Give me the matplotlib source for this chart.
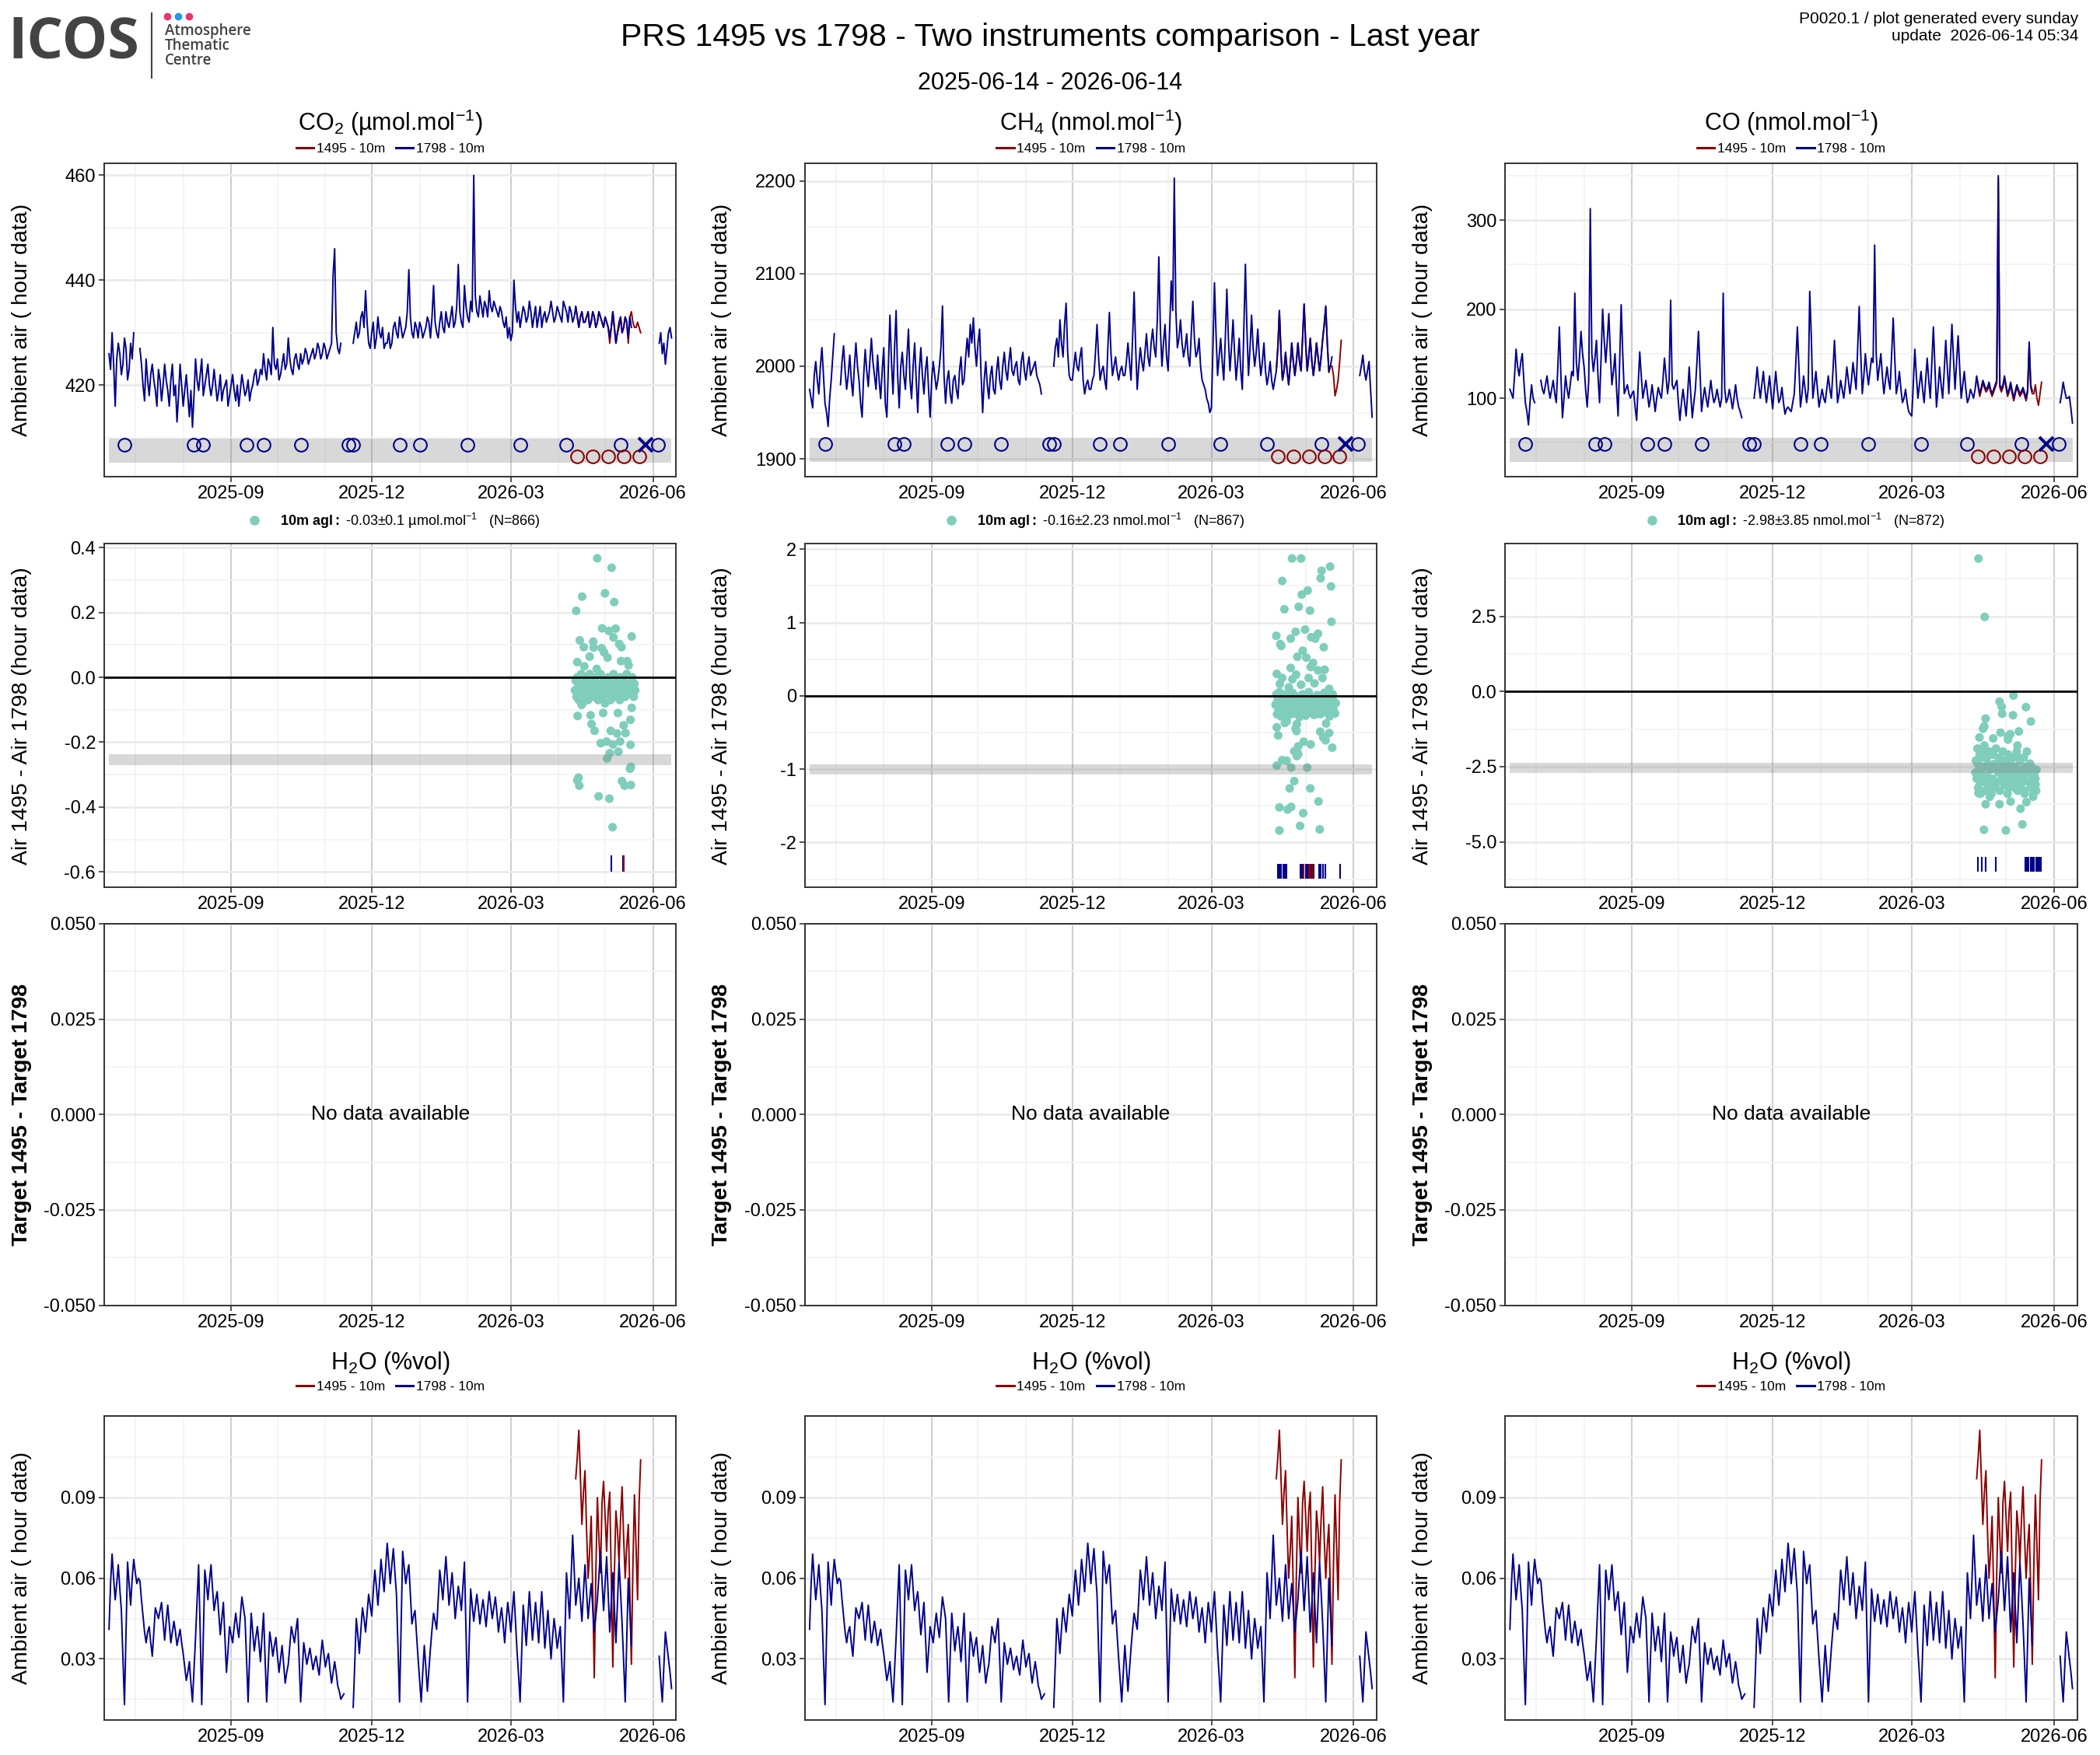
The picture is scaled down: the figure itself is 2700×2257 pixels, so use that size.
import numpy as np
import pandas as pd
import matplotlib
matplotlib.use("Agg")
from matplotlib import pyplot as plt
from matplotlib import dates as mdates
from matplotlib import font_manager
from matplotlib.lines import Line2D
from matplotlib.ticker import FixedLocator, AutoMinorLocator, FormatStrFormatter

installed = {f.name for f in font_manager.fontManager.ttflist}
NARROW = "Liberation Sans Narrow" if "Liberation Sans Narrow" in installed else "Liberation Sans"
REGULAR = "Liberation Sans"
LOGO = "Open Sans" if "Open Sans" in installed else REGULAR

plt.rcParams["font.family"] = [NARROW, "DejaVu Sans"]
plt.rcParams["mathtext.fontset"] = "custom"
plt.rcParams["mathtext.rm"] = NARROW
plt.rcParams["mathtext.bf"] = NARROW + ":bold"
plt.rcParams["mathtext.it"] = NARROW + ":italic"
plt.rcParams["axes.unicode_minus"] = False

nan = np.nan

# ---- instrument 1798 (blue): values on even days from 2025-06-14 ...
co2_1798 = [426, 430, 416, 428, 422, 429, 421, 428, 430, nan,
            427, 420, 425, 418, 424, 419, 423, 417, 424, 419,
            421, 418, 413, 424, 416, 422, 414, 412, 425, 419,
            425, 420, 424, 418, 423, 417, 422, 419, 421, 418,
            422, 417, 416, 422, 418, 421, 419, 422, 420, 423,
            426, 421, 424, 431, 423, 421, 424, 423, 429, 423,
            425, 424, 426, 425, 426, 425, 427, 426, 427, 426,
            427, 426, 428, 446, 427, 428, nan, nan, nan, 428,
            432, 430, 434, 438, 428, 430, 427, 433, 429, 427,
            428, 427, 431, 430, 433, 429, 431, 442, 430, 432,
            429, 431, 430, 433, 429, 439, 430, 432, 431, 434,
            431, 435, 432, 443, 432, 439, 433, 436, 460, 434,
            437, 433, 435, 438, 434, 435, 433, 434, 431, 429,
            428.5, 440, 432, 431, 435, 432, 436, 431, 435, 433,
            431, 434, 433, 436, 432, 435, 433, 436, 434, 435,
            432, 435, 431, 434, 432, 434, 432, 433, 432, 433,
            431, 432, 429, 434, 428, 432, 430, 433, 429, 431,
            nan, nan, nan, nan, nan, nan, nan, nan, 428, 426,
            424, 430, 429]
# ... and on the odd days in between
co2_1798_odd = [423, 424, 425, 426, 424, 427, 423, 425, nan, nan,
                424, 417, 421, 422, 421, 416, 421, 420, 421, 416,
                424, 420, 418, 420, 419, 418, 419, 418, 421, 422,
                418, 422, 420, 420, 420, 419, 417, 420, 416, 420,
                419, 420, 419, 420, 419, 417, 420, 423, 421, 422,
                423, 425, 422, 424, 425, 422, 426, 424, 425, 422,
                426, 423, 424, 427, 424, 426, 425, 428, 425, 428,
                425, 427, 441, 430, 426, nan, nan, nan, nan, 430,
                429, 433, 431, 432, 427, 432, 429, 430, 431, 428,
                430, 428, 432, 429, 431, 430, 434, 433, 429, 431,
                432, 429, 431, 432, 433, 432, 429, 434, 430, 432,
                433, 431, 435, 434, 431, 435, 432, 434, 437, 433,
                435, 436, 433, 435, 436, 434, 435, 432, 433, 431,
                430, 435, 434, 433, 434, 433, 434, 433, 431, 435,
                433, 432, 434, 434, 433, 434, 432, 435, 432, 434,
                433, 433, 433, 432, 433, 431, 434, 431, 434, 432,
                433, 431, 431, 431, 430, 433, 431, 432, 433, nan,
                nan, nan, nan, nan, nan, nan, nan, nan, 430, 428,
                427, 431]

ch4_1798 = [1975, 1955, 2005, 1970, 2020, 1960, 1935, 1985, 2035, nan,
            1980, 2022, 1975, 2012, 1968, 2025, 1985, 1945, 2018, 1978,
            2030, 1990, 2012, 1965, 2020, 1945, 2055, 1970, 2060, 1955,
            2015, 1975, 2040, 1965, 2025, 1950, 2020, 1970, 2010, 1945,
            2005, 1975, 2000, 2065, 1960, 1995, 1960, 1990, 1965, 2010,
            1985, 2030, 2045, 2052, 2000, 2040, 1950, 2005, 1965, 2000,
            1970, 2010, 1975, 2015, 1985, 2020, 1990, 2005, 1980, 2015,
            1985, 2010, 1995, 2005, 1985, 1970, nan, nan, nan, 2000,
            2030, 2050, 2010, 2068, 1990, 1985, 2015, 1995, 2020, 1970,
            1985, 1975, 1990, 2045, 1985, 2000, 1975, 2058, 1990, 2010,
            1985, 2000, 1990, 2025, 1985, 2080, 1975, 2020, 1995, 2035,
            2000, 2040, 2010, 2118, 2000, 2045, 1995, 2092, 2203, 2020,
            2050, 2010, 2035, 2000, 2070, 2010, 2030, 1985, 1975, 1960,
            1955, 2090, 1990, 2030, 1985, 2083, 1995, 2050, 1985, 2030,
            1975, 2110, 1990, 2055, 2000, 2040, 1990, 2025, 1980, 2005,
            1975, 1995, 2060, 1985, 2015, 1980, 2025, 1990, 2025, 1995,
            2067, 1995, 2030, 1990, 2025, 1995, 2030, 2065, 1995, 2010,
            nan, nan, nan, nan, nan, nan, nan, nan, 1990, 2012,
            1985, 2005, 1945]
ch4_1798_odd = [1965, 1990, 1985, 2000, 1990, 1950, 1965, 2010, nan, nan,
                2005, 1995, 1990, 1985, 2000, 2000, 1960, 1990, 1995, 2005,
                2005, 1975, 1985, 1995, 1960, 2000, 2005, 2020, 1990, 2000,
                1990, 2010, 1985, 2000, 1985, 1995, 1990, 1995, 1975, 1985,
                1990, 1985, 2020, 1990, 1985, 1970, 1985, 1975, 1995, 1980,
                2010, 2010, 2025, 2020, 2025, 1990, 1985, 1980, 1990, 1975,
                1995, 1985, 2000, 1995, 2005, 1995, 2000, 1985, 2005, 1995,
                2000, 1990, 2000, 1990, 1980, nan, nan, nan, nan, 2020,
                2010, 2025, 2045, 2015, 1985, 2000, 2000, 2010, 1985, 1980,
                1975, 1985, 2015, 2010, 1995, 1985, 2020, 2015, 2000, 1995,
                1995, 1990, 2005, 2005, 2030, 2020, 2000, 2005, 2015, 2010,
                2025, 2020, 2050, 2040, 2025, 2010, 2040, 2060, 2060, 2030,
                2025, 2020, 2010, 2035, 2030, 2015, 2000, 1980, 1965, 1950,
                2020, 2035, 2010, 2005, 2030, 2030, 2020, 2015, 2005, 1995,
                2040, 2040, 2020, 2020, 2015, 2010, 2005, 1995, 1990, 1985,
                1985, 2020, 2015, 1995, 1995, 2000, 2005, 2005, 2005, 2030,
                2025, 2010, 2005, 2005, 2010, 2010, 2045, 2025, 2000, nan,
                nan, nan, nan, nan, nan, nan, nan, nan, 2000, 1995,
                1995, 1975]

co_1798 = [110, 100, 155, 125, 150, 95, 70, 115, 95, nan,
           120, 105, 125, 100, 120, 95, 180, 78, 125, 100,
           130, 218, 120, 175, 135, 90, 313, 130, 165, 95,
           200, 140, 195, 115, 150, 80, 205, 105, 115, 100,
           108, 75, 152, 100, 120, 90, 115, 85, 112, 100,
           145, 105, 210, 110, 120, 75, 110, 80, 135, 78,
           110, 175, 85, 112, 90, 120, 95, 110, 90, 218,
           95, 110, 88, 115, 90, 78, nan, nan, nan, 100,
           135, 100, 130, 95, 125, 88, 130, 95, 112, 82,
           90, 85, 105, 180, 90, 125, 95, 220, 100, 130,
           90, 110, 95, 125, 100, 165, 95, 120, 100, 135,
           105, 140, 110, 203, 105, 150, 115, 145, 272, 120,
           150, 105, 135, 110, 190, 105, 130, 95, 110, 85,
           80, 155, 100, 130, 95, 145, 100, 180, 90, 135,
           100, 165, 105, 183, 110, 170, 100, 130, 95, 110,
           100, 125, 105, 120, 110, 118, 105, 115, 350, 110,
           125, 105, 118, 100, 115, 105, 112, 100, 163, 108,
           nan, nan, nan, nan, nan, nan, nan, nan, 95, 118,
           100, 102, 72]
co_1798_odd = [105, 125, 135, 140, 120, 85, 95, 100, nan, nan,
               110, 115, 110, 110, 105, 135, 125, 100, 110, 115,
               125, 140, 145, 150, 110, 120, 150, 145, 125, 145,
               165, 165, 150, 130, 110, 140, 150, 110, 105, 105,
               90, 115, 125, 110, 105, 100, 100, 100, 105, 120,
               125, 120, 115, 115, 95, 95, 95, 105, 105, 95,
               140, 130, 100, 100, 105, 105, 100, 100, 100, 110,
               100, 100, 100, 100, 85, nan, nan, nan, nan, 115,
               115, 115, 110, 110, 105, 110, 110, 100, 95, 88,
               87, 95, 140, 135, 105, 110, 110, 170, 115, 110,
               100, 100, 110, 110, 130, 130, 105, 110, 115, 120,
               120, 125, 155, 150, 125, 130, 130, 140, 150, 135,
               125, 120, 120, 150, 145, 115, 110, 100, 95, 82,
               115, 125, 115, 110, 120, 120, 140, 135, 110, 115,
               130, 135, 145, 145, 140, 135, 115, 110, 100, 105,
               110, 115, 112, 115, 112, 110, 110, 120, 115, 115,
               115, 110, 108, 108, 110, 108, 106, 110, 115, nan,
               nan, nan, nan, nan, nan, nan, nan, nan, 105, 108,
               100, 88]

h2o_1798 = [0.041, 0.069, 0.052, 0.065, 0.048, 0.013, 0.066, 0.050, 0.067, 0.058,
            0.059, 0.046, 0.036, 0.042, 0.031, 0.049, 0.045, 0.051, 0.037, 0.050,
            0.036, 0.044, 0.035, 0.041, 0.032, 0.022, 0.029, 0.014, 0.038, 0.065,
            0.013, 0.063, 0.052, 0.065, 0.048, 0.055, 0.039, 0.051, 0.025, 0.042,
            0.036, 0.047, 0.038, 0.053, 0.045, 0.014, 0.047, 0.033, 0.042, 0.029,
            0.047, 0.014, 0.040, 0.031, 0.038, 0.025, 0.035, 0.021, 0.028, 0.042,
            0.036, 0.045, 0.014, 0.036, 0.028, 0.034, 0.026, 0.031, 0.024, 0.037,
            0.027, 0.032, 0.021, 0.029, 0.020, 0.015, 0.017, nan, nan, 0.012,
            0.045, 0.032, 0.049, 0.040, 0.054, 0.046, 0.063, 0.050, 0.067, 0.055,
            0.073, 0.058, 0.071, 0.054, 0.014, 0.070, 0.058, 0.065, 0.043, 0.048,
            0.030, 0.014, 0.035, 0.018, 0.034, 0.047, 0.041, 0.063, 0.052, 0.068,
            0.050, 0.062, 0.045, 0.057, 0.048, 0.066, 0.014, 0.056, 0.044, 0.054,
            0.043, 0.052, 0.042, 0.055, 0.045, 0.053, 0.040, 0.049, 0.036, 0.051,
            0.040, 0.055, 0.033, 0.014, 0.050, 0.035, 0.055, 0.037, 0.051, 0.036,
            0.055, 0.034, 0.048, 0.030, 0.045, 0.034, 0.042, 0.014, 0.062, 0.045,
            0.076, 0.050, 0.060, 0.044, 0.065, 0.045, 0.058, 0.040, 0.052, 0.070,
            0.048, 0.068, 0.040, 0.062, 0.036, 0.066, 0.043, 0.014, 0.060, 0.035,
            nan, nan, nan, nan, nan, nan, nan, nan, 0.031, 0.014,
            0.040, 0.030, 0.019]
h2o_1798_odd = [0.058, 0.060, 0.058, 0.056, 0.030, 0.040, 0.058, 0.060, 0.062, 0.060,
                0.052, 0.040, 0.040, 0.036, 0.040, 0.047, 0.048, 0.044, 0.044, 0.043,
                0.040, 0.040, 0.038, 0.036, 0.027, 0.025, 0.021, 0.026, 0.052, 0.040,
                0.038, 0.058, 0.059, 0.056, 0.052, 0.047, 0.045, 0.038, 0.033, 0.039,
                0.042, 0.042, 0.046, 0.049, 0.030, 0.031, 0.040, 0.038, 0.036, 0.038,
                0.030, 0.027, 0.036, 0.035, 0.031, 0.030, 0.028, 0.025, 0.035, 0.039,
                0.041, 0.030, 0.025, 0.032, 0.031, 0.030, 0.029, 0.027, 0.031, 0.032,
                0.030, 0.026, 0.025, 0.025, 0.018, 0.016, nan, nan, nan, 0.028,
                0.039, 0.041, 0.045, 0.047, 0.050, 0.055, 0.057, 0.058, 0.061, 0.064,
                0.066, 0.065, 0.062, 0.034, 0.042, 0.064, 0.062, 0.054, 0.046, 0.039,
                0.022, 0.025, 0.027, 0.026, 0.041, 0.044, 0.052, 0.058, 0.060, 0.059,
                0.056, 0.054, 0.051, 0.053, 0.057, 0.040, 0.035, 0.050, 0.049, 0.049,
                0.048, 0.047, 0.049, 0.050, 0.049, 0.047, 0.045, 0.043, 0.044, 0.046,
                0.048, 0.044, 0.024, 0.032, 0.043, 0.045, 0.046, 0.044, 0.044, 0.046,
                0.045, 0.041, 0.039, 0.038, 0.040, 0.038, 0.028, 0.038, 0.054, 0.060,
                0.063, 0.055, 0.052, 0.055, 0.055, 0.052, 0.049, 0.046, 0.061, 0.059,
                0.058, 0.054, 0.051, 0.049, 0.051, 0.055, 0.029, 0.037, 0.048, nan,
                nan, nan, nan, nan, nan, nan, nan, nan, 0.022, 0.027,
                0.035, 0.025]

# ---- instrument 1495 (red): even days from 2026-04-12, then the odd days between
co2_1495 = [435, 431, 434, 432, 434, 432, 433, 432, 433, 431, 432,
            428, 434, 428, 431, 430, 433, 428, 434, 431, 432, 430]
co2_1495_odd = [433, 433, 432, 433, 431, 434, 431, 434, 432, 433, 431,
                431, 431, 430, 433, 431, 432, 433, 432, 431, 431]
ch4_1495 = [1995, 2060, 1985, 2015, 1980, 2025, 1990, 2025, 1995, 2067, 1995,
            2030, 1990, 2025, 1995, 2028, 2063, 1993, 2000, 1968, 1985, 2028]
ch4_1495_odd = [2020, 2015, 1995, 1995, 2000, 2005, 2005, 2005, 2030, 2025, 2010,
                2005, 2005, 2010, 2010, 2045, 2025, 2000, 1990, 1975, 2005]
co_1495 = [122, 102, 117, 107, 115, 102, 112, 347, 107, 122, 102,
           115, 97, 112, 102, 109, 97, 160, 105, 115, 92, 118]
co_1495_odd = [112, 109, 112, 109, 107, 107, 117, 112, 112, 112, 107,
               105, 105, 107, 105, 103, 107, 112, 105, 100, 105]
h2o_1495 = [0.097, 0.115, 0.080, 0.100, 0.060, 0.083, 0.023, 0.090, 0.062, 0.096, 0.070,
            0.092, 0.027, 0.085, 0.066, 0.094, 0.060, 0.080, 0.028, 0.091, 0.052, 0.104]
h2o_1495_odd = [0.105, 0.098, 0.092, 0.078, 0.070, 0.055, 0.062, 0.075, 0.088, 0.083, 0.085,
                0.060, 0.062, 0.078, 0.082, 0.075, 0.072, 0.055, 0.065, 0.072, 0.088]

# ---- calibration / check markers on the air panels
cal_1798 = ["2025-06-24", "2025-08-08", "2025-08-14", "2025-09-11", "2025-09-22",
            "2025-10-16", "2025-11-16", "2025-11-19", "2025-12-19", "2026-01-01",
            "2026-02-01", "2026-03-07", "2026-04-06", "2026-05-11", "2026-06-04"]
cal_1495 = ["2026-04-13", "2026-04-23", "2026-05-03", "2026-05-13", "2026-05-23"]
fail_1798 = ["2026-05-27"]

# ---- Air 1495 - Air 1798 differences, x = days after 2026-04-01
core_day = [10.5, 11, 11.5, 12, 12.5, 13, 13.5, 14, 14.5, 15, 15.5, 16, 16.5, 17, 17.5,
            18, 18.5, 19, 19.5, 20, 21, 21.5, 22, 23, 23.5, 24, 25, 25.5, 26, 27, 27.5,
            28, 29, 29.5, 30, 31, 31.5, 32, 33, 33.5, 34, 35, 35.5, 36, 37, 37.5, 38, 39,
            39.5, 40, 41, 41.5, 42, 43, 43.5, 44, 45, 45.5, 46, 47, 47.5, 48, 48.5, 49, 49.5]

co2_out_day = [24.9, 34.2, 29.9, 15.1, 35.9, 11.3, 28.1, 36.8, 32.5, 47.2, 13.6, 22.3, 35.4,
               39.1, 40.6, 16.2, 22.6, 27.8, 29.3, 31.6, 20.0, 12.0, 40.3, 44.3, 16.5, 24.6,
               45.2, 14.8, 47.2, 12.2, 20.6, 28.7, 38.3, 46.4, 42.0, 21.2, 23.2, 33.6, 37.7,
               43.2, 27.2, 31.0, 35.1, 39.7, 46.4, 38.6, 33.0, 31.3, 46.7, 46.1, 12.0, 12.8,
               13.3, 40.9, 42.6, 46.7, 25.8, 32.8, 34.8]
co2_out = [0.367, 0.338, 0.259, 0.249, 0.232, 0.205, 0.151, 0.150, 0.143, 0.126, 0.114, 0.110,
           0.123, 0.103, 0.093, 0.093, 0.092, 0.090, 0.077, 0.061, 0.064, 0.047, 0.050, 0.050,
           0.034, 0.026, 0.037, -0.085, -0.094, -0.119, -0.117, -0.110, -0.110, -0.131, -0.148,
           -0.144, -0.165, -0.165, -0.173, -0.172, -0.203, -0.198, -0.207, -0.198, -0.208,
           -0.229, -0.234, -0.250, -0.276, -0.282, -0.318, -0.309, -0.334, -0.320, -0.334,
           -0.332, -0.367, -0.374, -0.462]
co2_core = [-0.04, -0.01, -0.06, 0.0, -0.03, -0.07, -0.02, -0.05, 0.01, -0.04, -0.08, -0.02,
            -0.06, 0.0, -0.03, -0.05, -0.01, -0.07, -0.03, 0.01, -0.05, -0.02, -0.06, -0.03,
            0.0, -0.05, -0.02, -0.07, -0.04, 0.01, -0.03, -0.06, -0.01, -0.04, -0.08, -0.02,
            -0.05, 0.0, -0.04, -0.07, -0.02, -0.05, 0.01, -0.03, -0.06, -0.01, -0.04, -0.02,
            -0.07, 0.0, -0.05, -0.03, -0.01, -0.06, -0.04, 0.01, -0.03, -0.05, -0.02, -0.04,
            0.0, -0.03, -0.06, -0.02, -0.04]

ch4_out_day = [21.2, 27.0, 45.8, 40.3, 39.7, 14.8, 46.4, 31.3, 27.5, 16.2, 25.5, 32.8, 46.7,
               29.6, 23.5, 11.0, 20.3, 38.0, 33.6, 36.2, 13.6, 14.2, 41.7, 28.1, 24.6, 30.4,
               34.8, 33.3, 20.3, 38.0, 42.3, 11.3, 23.8, 14.8, 31.9, 40.9, 21.4, 13.3, 27.0,
               35.7, 19.1, 45.2,
               17.7, 16.5, 24.3, 43.2, 23.5, 11.3, 24.1, 39.4, 45.2, 12.2, 41.4, 42.9, 28.7,
               33.3, 25.2, 47.2, 22.6, 25.2, 24.3, 11.3, 14.8, 17.7, 20.6, 31.0, 22.6, 19.7,
               33.0, 38.3, 13.0, 20.6, 18.3, 28.4, 26.4, 39.1, 13.0]
ch4_out = [1.874, 1.874, 1.763, 1.707, 1.604, 1.567, 1.493, 1.437, 1.381, 1.181, 1.215, 1.163,
           1.011, 0.904, 0.874, 0.819, 0.781, 0.848, 0.800, 0.781, 0.707, 0.681, 0.663, 0.615,
           0.533, 0.522, 0.448, 0.393, 0.381, 0.348, 0.356, 0.300, 0.289, 0.244, 0.244, 0.244,
           0.226, 0.163, 0.152, 0.170, 0.115, 0.096,
           -0.348, -0.370, -0.385, -0.378, -0.448, -0.430, -0.481, -0.489, -0.507, -0.541,
           -0.570, -0.607, -0.626, -0.663, -0.689, -0.707, -0.756, -0.793, -0.822, -0.952,
           -0.878, -0.885, -0.978, -0.978, -1.163, -1.263, -1.263, -1.441, -1.522, -1.515,
           -1.552, -1.600, -1.774, -1.822, -1.837]
ch4_core = [-0.12, 0.02, -0.25, -0.05, -0.18, 0.05, -0.09, -0.28, -0.02, -0.15, -0.22, 0.0,
            -0.1, -0.3, -0.06, 0.03, -0.2, -0.13, -0.26, -0.04, -0.17, 0.04, -0.11, -0.24,
            -0.07, -0.01, -0.19, -0.14, -0.29, -0.03, -0.21, 0.02, -0.08, -0.16, -0.27, -0.05,
            -0.12, 0.05, -0.23, -0.1, -0.02, -0.18, -0.26, -0.06, -0.14, 0.01, -0.2, -0.09,
            -0.25, -0.03, -0.15, -0.07, 0.04, -0.22, -0.11, -0.01, -0.17, -0.28, -0.05, -0.13,
            0.02, -0.19, -0.08, -0.24, -0.1]

co_out_day = [12.2, 16.2, 34.8, 25.8, 27.2, 42.9, 27.5, 34.5, 46.1, 16.8, 15.9, 15.1, 38.3,
              26.4, 32.8, 21.7, 31.3, 31.3, 37.4, 12.8, 12.2, 20.6, 16.8, 25.8, 33.0, 43.2,
              39.4, 40.6, 15.7, 29.9,
              10.3, 11.7, 13.1, 14.4, 15.8, 17.2, 18.7, 20.1, 21.6, 23.0, 24.4, 25.9, 27.3,
              28.8, 30.2, 31.7, 33.1, 34.6, 36.0, 37.5, 38.9, 40.4, 41.8, 43.3, 44.7, 46.2,
              47.6, 48.3, 49.1, 49.7]
co_out = [4.42, 2.48, -0.135, -0.34, -0.51, -0.52, -0.74, -0.79, -1.0, -0.9, -1.16, -1.24,
          -1.33, -1.37, -1.42, -1.56, -1.49, -1.6, -1.8, -1.53, -3.38, -3.4, -3.75, -3.75,
          -3.66, -3.68, -3.9, -4.42, -4.6, -4.62,
          -2.7, -2.4, -3.0, -2.2, -2.8, -3.3, -2.5, -2.9, -2.1, -3.1, -2.6, -2.3, -3.0, -2.7,
          -2.4, -3.2, -2.8, -2.5, -3.0, -2.2, -2.9, -2.6, -3.3, -2.7, -3.0, -2.5, -3.4, -2.8,
          -3.1, -2.6]
co_core = [-2.3, -2.9, -1.9, -3.2, -2.6, -2.1, -3.4, -2.7, -2.0, -3.0, -2.5, -1.8, -3.3, -2.8,
           -2.2, -3.1, -2.4, -2.0, -3.5, -2.6, -2.9, -2.1, -3.2, -2.4, -1.9, -3.0, -2.7, -2.2,
           -3.3, -2.5, -2.8, -2.0, -3.1, -2.3, -2.6, -3.4, -2.1, -2.9, -2.4, -3.0, -2.2, -2.7,
           -3.2, -2.5, -2.0, -3.3, -2.8, -2.3, -3.1, -2.6, -2.9, -2.2, -3.4, -2.5, -2.0, -3.0,
           -2.7, -2.4, -3.2, -2.8, -3.5, -2.6, -3.1, -2.9, -3.3]

# events shown as ticks at the bottom of the difference panels (days after 2026-04-01)
co2_rug_blue = [34.2, 41.7]
co2_rug_red = [42.3]
ch4_rug_blue = [11.9, 12.8, 13.9, 15.7, 16.8, 17.7, 26.4, 27.5, 29.9, 31.0, 33.9, 35.1,
                38.6, 39.7, 41.2, 42.6, 52.5]
ch4_rug_red = [28.4, 32.2, 33.0, 34.5]
co_rug_blue = [11.9, 14.2, 16.8, 23.5, 42.3, 43.5, 44.6, 45.8, 47.0, 48.1, 49.3, 50.4, 51.6, 52.5]
co_rug_red = []

diff_means = ["-0.03" + "\u00b1" + "0.1 \u00b5mol.mol$^{-1}$   (N=866)",
              "-0.16" + "\u00b1" + "2.23 nmol.mol$^{-1}$   (N=867)",
              "-2.98" + "\u00b1" + "3.85 nmol.mol$^{-1}$   (N=872)"]

BLUE = "#00008B"
RED = "#8B0000"
TEAL = "#7FCDBB"
GRID_MAJ_X = "#cfcfcf"
GRID_MAJ_Y = "#ebebeb"
GRID_MIN = "#f2f2f2"
FRAME = "#333333"
LW = 1.4


def daily(even, odd):
    # put the even-day and odd-day readings back in time order
    out = np.empty(len(even) + len(odd))
    out[0::2] = even
    out[1::2] = odd
    return out


day_index = pd.date_range("2025-06-14", periods=2 * len(co2_1798) - 1, freq="D")
red_index = pd.date_range("2026-04-12", periods=2 * len(co2_1495) - 1, freq="D")
diff_base = pd.Timestamp("2026-04-01")
X_LO = pd.Timestamp("2025-06-11")
X_HI = pd.Timestamp("2026-06-16")


def to_dates(days):
    return diff_base + pd.to_timedelta(np.asarray(days, dtype=float), unit="D")


fig = plt.figure(figsize=(27, 22.57), dpi=100)
COL_LEFT = [0.0497, 0.3833, 0.7168]
COL_W = 0.2723
ROWS = {"air": (0.7285, 0.1785), "diff": (0.4943, 0.1960),
        "target": (0.2563, 0.2174), "h2o": (0.0198, 0.1732)}


def base_axes(col, row, yticks, fmt, ylim):
    b, h = ROWS[row]
    ax = fig.add_axes([COL_LEFT[col], b, COL_W, h])
    ax.set_xlim(X_LO, X_HI)
    ax.set_ylim(*ylim)
    ax.xaxis.set_major_locator(mdates.MonthLocator(bymonth=[3, 6, 9, 12]))
    ax.xaxis.set_minor_locator(mdates.MonthLocator(bymonth=[1, 2, 4, 5, 7, 8, 10, 11]))
    ax.xaxis.set_major_formatter(mdates.DateFormatter("%Y-%m"))
    ax.yaxis.set_major_locator(FixedLocator(yticks))
    ax.yaxis.set_major_formatter(FormatStrFormatter(fmt))
    ax.yaxis.set_minor_locator(AutoMinorLocator(2))
    ax.grid(which="major", axis="x", color=GRID_MAJ_X, lw=1.5)
    ax.grid(which="major", axis="y", color=GRID_MAJ_Y, lw=2.0)
    ax.grid(which="minor", color=GRID_MIN, lw=1.2)
    ax.set_axisbelow(True)
    ax.tick_params(which="major", length=5, width=1.2, color=FRAME, labelsize=17, pad=3)
    ax.tick_params(which="minor", length=0)
    for sp in ax.spines.values():
        sp.set_color(FRAME)
        sp.set_linewidth(1.4)
    return ax


def set_ylab(ax, text, bold=False):
    ax.set_ylabel(text, fontsize=20.5, family=REGULAR, fontweight="bold" if bold else "normal",
                  va="center")
    ax.yaxis.set_label_coords(-0.145, 0.5)


def line_legend(col, y):
    cx = COL_LEFT[col] + COL_W / 2
    handles = [Line2D([], [], color=RED, lw=2.2), Line2D([], [], color=BLUE, lw=2.2)]
    fig.legend(handles, ["1495 - 10m", "1798 - 10m"], loc="center", bbox_to_anchor=(cx, y),
               ncol=2, frameon=False, fontsize=12.5, handlelength=1.3, handletextpad=0.2,
               columnspacing=0.8, borderaxespad=0)


# ---- header
fig.text(0.004, 0.9755, "ICOS", fontsize=53, fontweight="bold", color="#434343",
         family=LOGO, va="center", ha="left")
fig.add_artist(Line2D([0.0721, 0.0721], [0.9558, 0.9924], color="#434343", lw=1.5))
for xd, cd in zip([0.0797, 0.0848, 0.0899], ["#E8336F", "#1F9BE6", "#E8336F"]):
    fig.add_artist(Line2D([xd], [0.9905], marker="o", ms=7, color=cd, mec="none"))
for yt, tt in zip([0.9822, 0.9738, 0.9655], ["Atmosphere", "Thematic", "Centre"]):
    fig.text(0.0784, yt, tt, fontsize=13.5, fontweight="semibold", color="#434343",
             family=LOGO, va="center", ha="left")
fig.text(0.5, 0.9786, "PRS 1495 vs 1798 - Two instruments comparison - Last year",
         fontsize=29.5, family=REGULAR, ha="center", va="center")
fig.text(0.5, 0.9527, "2025-06-14 - 2026-06-14", fontsize=22, family=REGULAR,
         ha="center", va="center")
fig.text(0.9898, 0.9893, "P0020.1 / plot generated every sunday", fontsize=15,
         ha="right", va="center")
fig.text(0.9898, 0.9794, "update  2026-06-14 05:34", fontsize=15, ha="right", va="center")

# ---- row 1: ambient air
air_panels = [
    dict(title="CO$_2$ (\u00b5mol.mol$^{-1}$)",
         blue=daily(co2_1798, co2_1798_odd), red=daily(co2_1495, co2_1495_odd),
         ylim=(402.6, 462.3), ticks=[420, 440, 460], fmt="%d",
         band=(405.3, 409.9), yb=408.7, yr=406.4),
    dict(title="CH$_4$ (nmol.mol$^{-1}$)",
         blue=daily(ch4_1798, ch4_1798_odd), red=daily(ch4_1495, ch4_1495_odd),
         ylim=(1881, 2219), ticks=[1900, 2000, 2100, 2200], fmt="%d",
         band=(1896.6, 1922.7), yb=1915.9, yr=1902.5),
    dict(title="CO (nmol.mol$^{-1}$)",
         blue=daily(co_1798, co_1798_odd), red=daily(co_1495, co_1495_odd),
         ylim=(12, 364), ticks=[100, 200, 300], fmt="%d",
         band=(28.4, 55.6), yb=48.5, yr=34.6),
]
for col, p in enumerate(air_panels):
    ax = base_axes(col, "air", p["ticks"], p["fmt"], p["ylim"])
    ax.fill_between([day_index[0], day_index[-1]], p["band"][0], p["band"][1],
                    color="#808080", alpha=0.3, lw=0, zorder=1)
    ax.plot(red_index, p["red"], color=RED, lw=LW, zorder=2)
    ax.plot(day_index, p["blue"], color=BLUE, lw=LW, zorder=3)
    ax.plot(pd.to_datetime(cal_1798), [p["yb"]] * len(cal_1798), "o", mfc="none",
            mec=BLUE, ms=12, mew=1.5, zorder=4)
    ax.plot(pd.to_datetime(cal_1495), [p["yr"]] * len(cal_1495), "o", mfc="none",
            mec=RED, ms=12, mew=1.5, zorder=4)
    ax.plot(pd.to_datetime(fail_1798), [p["yb"]] * len(fail_1798), "x", color=BLUE,
            ms=13, mew=2.8, zorder=4)
    set_ylab(ax, "Ambient air ( hour data)")
    fig.text(COL_LEFT[col] + COL_W / 2, 0.9300, p["title"], fontsize=22, ha="center",
             va="center")
    line_legend(col, 0.9153)

# ---- row 2: air differences
diff_panels = [
    dict(day=co2_out_day + core_day, val=co2_out + co2_core, ylim=(-0.648, 0.4125),
         ticks=[-0.6, -0.4, -0.2, 0.0, 0.2, 0.4], fmt="%.1f", band=(-0.27, -0.236),
         rug=(-0.6, -0.55), rb=co2_rug_blue, rr=co2_rug_red),
    dict(day=ch4_out_day + core_day, val=ch4_out + ch4_core, ylim=(-2.615, 2.078),
         ticks=[-2, -1, 0, 1, 2], fmt="%d", band=(-1.07, -0.93),
         rug=(-2.49, -2.29), rb=ch4_rug_blue, rr=ch4_rug_red),
    dict(day=co_out_day + core_day, val=co_out + co_core, ylim=(-6.52, 4.92),
         ticks=[-5.0, -2.5, 0.0, 2.5], fmt="%.1f", band=(-2.70, -2.37),
         rug=(-6.0, -5.5), rb=co_rug_blue, rr=co_rug_red),
]
for col, p in enumerate(diff_panels):
    ax = base_axes(col, "diff", p["ticks"], p["fmt"], p["ylim"])
    ax.scatter(to_dates(p["day"]), p["val"], s=64, color=TEAL, edgecolors="none", zorder=2)
    ax.axhline(0, color="black", lw=2.0, zorder=3)
    ax.fill_between([day_index[0], day_index[-1]], p["band"][0], p["band"][1],
                    color="#808080", alpha=0.3, lw=0, zorder=4)
    if p["rb"]:
        ax.vlines(to_dates(p["rb"]), p["rug"][0], p["rug"][1], color=BLUE, lw=1.5, zorder=5)
    if p["rr"]:
        ax.vlines(to_dates(p["rr"]), p["rug"][0], p["rug"][1], color=RED, lw=1.5, zorder=6)
    set_ylab(ax, "Air 1495 - Air 1798 (hour data)")
    cx = COL_LEFT[col] + COL_W / 2
    dot = Line2D([], [], marker="o", ls="none", color=TEAL, ms=8)
    fig.legend([dot], [r"$\mathbf{10m\ agl:}$ " + diff_means[col]], loc="center",
               bbox_to_anchor=(cx, 0.7033), frameon=False, fontsize=13,
               handletextpad=0.8, borderaxespad=0)

# ---- row 3: target differences (no data)
for col in range(3):
    ax = base_axes(col, "target", [-0.05, -0.025, 0.0, 0.025, 0.05], "%.3f", (-0.05, 0.05))
    ax.text(0.5, 0.5, "No data available", transform=ax.transAxes, ha="center",
            va="center", fontsize=19)
    set_ylab(ax, "Target 1495 - Target 1798", bold=True)

# ---- row 4: H2O
h2o_blue = daily(h2o_1798, h2o_1798_odd)
h2o_red = daily(h2o_1495, h2o_1495_odd)
for col in range(3):
    ax = base_axes(col, "h2o", [0.03, 0.06, 0.09], "%.2f", (0.0072, 0.1202))
    ax.plot(red_index, h2o_red, color=RED, lw=LW, zorder=2)
    ax.plot(day_index, h2o_blue, color=BLUE, lw=LW, zorder=3)
    set_ylab(ax, "Ambient air ( hour data)")
    fig.text(COL_LEFT[col] + COL_W / 2, 0.2235, "H$_2$O (%vol)", fontsize=22,
             ha="center", va="center")
    line_legend(col, 0.2098)

fig.savefig("out.png", dpi=100)
